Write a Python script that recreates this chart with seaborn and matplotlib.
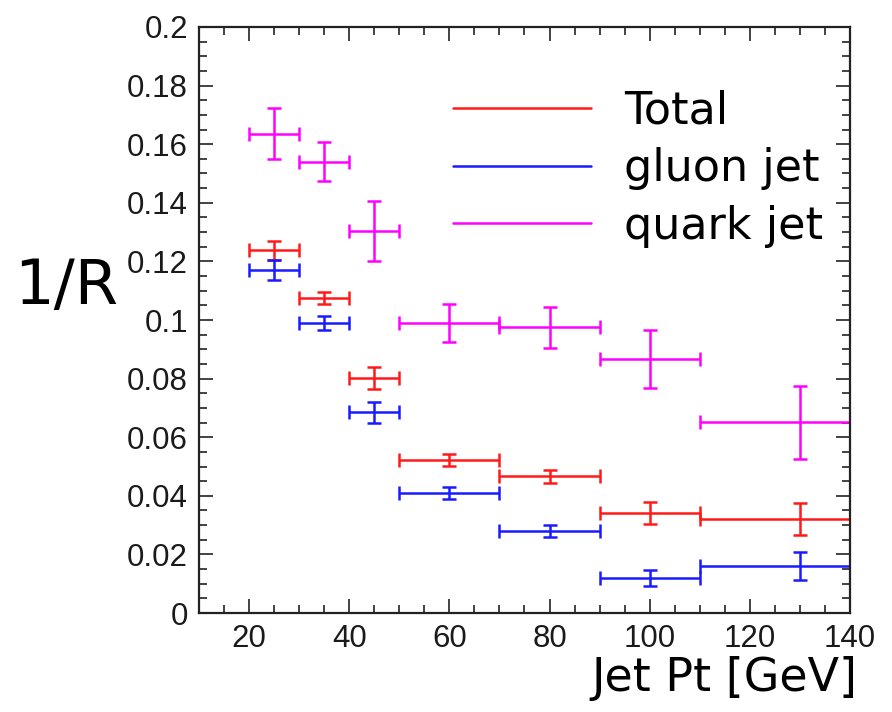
import matplotlib
matplotlib.use("Agg")
import matplotlib.pyplot as plt
from matplotlib.lines import Line2D
from matplotlib.ticker import MultipleLocator
import seaborn as sns
import numpy as np

# ---- data ----
bin_lo = [20, 30, 40, 50, 70, 90, 110]
bin_hi = [30, 40, 50, 70, 90, 110, 150]
bin_center = [25, 35, 45, 60, 80, 100, 130]

total_val = [0.1238, 0.1076, 0.0801, 0.0522, 0.0466, 0.0342, 0.0322]
total_err = [0.0033, 0.0020, 0.0037, 0.0020, 0.0023, 0.0037, 0.0054]

gluon_val = [0.1170, 0.0991, 0.0685, 0.0409, 0.0281, 0.0119, 0.0160]
gluon_err = [0.0034, 0.0024, 0.0036, 0.0020, 0.0020, 0.0027, 0.0047]

quark_val = [0.1635, 0.1540, 0.1304, 0.0989, 0.0975, 0.0867, 0.0651]
quark_err = [0.0087, 0.0067, 0.0101, 0.0064, 0.0071, 0.0100, 0.0124]

series_labels = ["Total", "gluon jet", "quark jet"]
series_colors = ["#ff1a1a", "#1a1aff", "#ff00ff"]

x_ticks = [20, 40, 60, 80, 100, 120, 140]
y_ticks = [0, 0.02, 0.04, 0.06, 0.08, 0.1, 0.12, 0.14, 0.16, 0.18, 0.2]
y_tick_labels = ["0", "0.02", "0.04", "0.06", "0.08", "0.1", "0.12", "0.14", "0.16", "0.18", "0.2"]

# ---- style ----
sns.set_theme(style="white")
plt.rcParams["font.family"] = ["DejaVu Sans"]

fig = plt.figure(figsize=(8.92, 7.12), dpi=100)
fig.patch.set_facecolor("white")
ax = fig.add_axes([0.2231, 0.139, 0.7298, 0.8231])
ax.set_facecolor("white")

lo = np.array(bin_lo); hi = np.array(bin_hi); c = np.array(bin_center)
xerr = np.vstack([c - lo, hi - c])

for vals, errs, col in [(total_val, total_err, series_colors[0]),
                        (gluon_val, gluon_err, series_colors[1]),
                        (quark_val, quark_err, series_colors[2])]:
    ax.errorbar(c, vals, xerr=xerr, yerr=errs, fmt="none", ecolor=col,
                elinewidth=1.8, capsize=4.8, capthick=1.8, clip_on=True)

ax.set_xlim(10, 140)
ax.set_ylim(0, 0.2)
ax.set_xticks(x_ticks)
ax.set_xticklabels([str(t) for t in x_ticks])
ax.set_yticks(y_ticks)
ax.set_yticklabels(y_tick_labels)
ax.xaxis.set_minor_locator(MultipleLocator(5))
ax.yaxis.set_minor_locator(MultipleLocator(0.005))

ax.tick_params(which="both", direction="in", top=True, right=True,
               bottom=True, left=True, color="#222222", width=1.2)
ax.tick_params(which="major", length=10, pad=8)
ax.tick_params(which="minor", length=6)
for lab in ax.get_xticklabels() + ax.get_yticklabels():
    lab.set_fontfamily(["Liberation Sans", "DejaVu Sans"])
    lab.set_fontsize(22.5)
    lab.set_color("#1a1a1a")

for sp in ax.spines.values():
    sp.set_visible(True)
    sp.set_color("#222222")
    sp.set_linewidth(1.6)

ax.set_ylabel("1/R", fontsize=45, rotation=0, ha="center", va="center", color="black")
ax.yaxis.set_label_coords(-0.204, 0.556)
ax.set_xlabel("Jet Pt [GeV]", fontsize=33, ha="right", va="center", color="black")
ax.xaxis.set_label_coords(1.012, -0.111)

handles = [Line2D([0], [0], color=col, lw=1.8) for col in series_colors]
leg = ax.legend(handles, series_labels, loc="upper left", bbox_to_anchor=(0.39, 0.893),
                frameon=False, fontsize=32, handlelength=3.1, handletextpad=0.75,
                labelspacing=0.33, borderpad=0, borderaxespad=0)
for t in leg.get_texts():
    t.set_color("black")

fig.savefig("out.png", dpi=100, facecolor="white")
